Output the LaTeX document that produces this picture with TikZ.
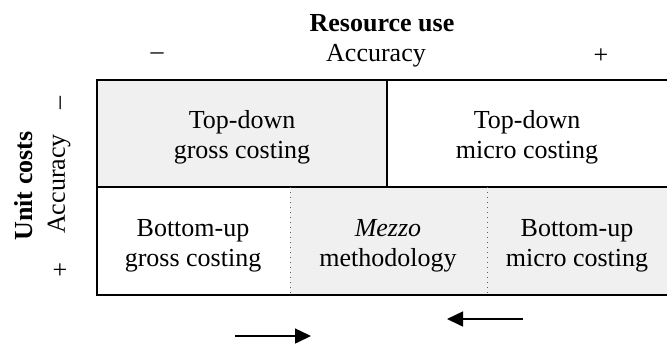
\documentclass[tikz,border=0pt]{standalone}
\usepackage{fontspec}
\setmainfont{Liberation Serif}
\usetikzlibrary{arrows.meta}
\definecolor{cellgrey}{HTML}{F0F0F0}
\definecolor{dotgrey}{HTML}{606060}
\begin{document}
\begin{tikzpicture}[x=0.5pt,y=-0.5pt,
  txt/.style={font=\fontsize{13}{15}\selectfont, inner sep=0pt, align=center},
  head/.style={txt, font=\fontsize{13}{15}\selectfont\bfseries},
  border/.style={line width=1pt, line cap=rect},
  divider/.style={line width=0.5pt, dotted, dotgrey},
  flow/.style={line width=0.75pt, -{Triangle[length=8pt,width=7.5pt]}}
]
\useasboundingbox (0,0) rectangle (667,345);

% shaded cells
\fill[cellgrey] (97,80) rectangle (387,187);
\fill[cellgrey] (290,187) rectangle (667,295);

% grid lines
\draw[border] (667,80) -- (97,80) -- (97,295) -- (667,295);
\draw[border] (97,187) -- (667,187);
\draw[border] (387,80) -- (387,187);
\draw[divider] (290,187) -- (290,295);
\draw[divider] (487,187) -- (487,295);

% column header
\node[head] (res) at (382,23) {Resource use};
\node[txt] (acctop) at (376,56) {Accuracy};
\node[txt] (mintop) at (157,56) {–};
\node[txt] (plustop) at (601,56) {+};

% row header
\node[head, rotate=90] (unit) at (24,186) {Unit costs};
\node[txt, rotate=90] (accleft) at (59,184) {Accuracy};
\node[txt, rotate=90] (minleft) at (63,103) {–};
\node[txt] (plusleft) at (60,271) {+};

% cells
\node[txt] (tl) at (242,137) {Top-down\\gross costing};
\node[txt] (tr) at (527,137) {Top-down\\micro costing};
\node[txt] (bl) at (193,246) {Bottom-up\\gross costing};
\node[txt] (bm) at (388,246) {\textit{Mezzo}\\methodology};
\node[txt] (br) at (577,246) {Bottom-up\\micro costing};

% direction arrows
\coordinate (ra) at (235,336);
\coordinate (rb) at (311,336);
\coordinate (la) at (523,319);
\coordinate (lb) at (447,319);
\draw[flow] (ra) -- (rb);
\draw[flow] (la) -- (lb);
\end{tikzpicture}
\end{document}
